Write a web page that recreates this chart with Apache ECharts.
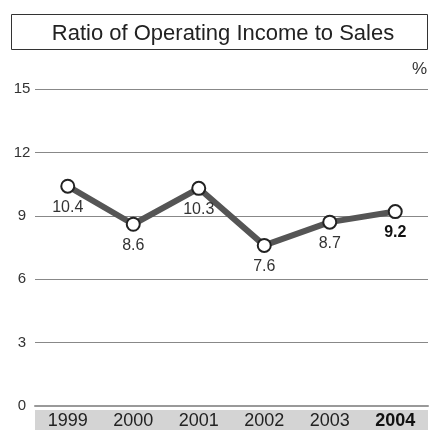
<!DOCTYPE html>
<html><head><meta charset="utf-8">
<script src="https://cdn.jsdelivr.net/npm/echarts@6/dist/echarts.min.js"></script>
<style>html,body{margin:0;padding:0;background:#fff}#c{width:430px;height:430px}</style>
</head><body><div id="c"></div>
<script>
var titleText = 'Ratio of Operating Income to Sales';
var categories = ['1999','2000','2001','2002','2003','2004'];
var ratioValues = [10.4, 8.6, 10.3, 7.6, 8.7, 9.2];
var yTicks = [0, 3, 6, 9, 12, 15];
var unitLabel = '%';

var chart = echarts.init(document.getElementById('c'), null, {renderer:'canvas'});
var font = 'Liberation Sans, Arial, sans-serif';
var narrow = '"Liberation Sans Narrow", "Arial Narrow", sans-serif';
chart.setOption({
  animation: false,
  backgroundColor: '#fff',
  title: {
    text: titleText, left: 218, top: 18, textAlign: 'center',
    textStyle: {fontFamily: font, fontSize: 22, fontWeight: 'normal', color: '#222'}
  },
  graphic: [
    {type:'rect', shape:{x:11.5, y:14.5, width:416, height:35}, style:{fill:'none', stroke:'#333', lineWidth:1}, z:-1},
    {type:'rect', shape:{x:35, y:410, width:393, height:20}, style:{fill:'#d4d4d4'}, z:-1},
    {type:'text', right: 3, top: 61, style:{text: unitLabel, fontFamily: font, fontSize: 17, fill:'#333'}}
  ],
  grid: {left: 35, right: 2, top: 89, bottom: 20, containLabel: false},
  xAxis: {
    type: 'category', data: categories, boundaryGap: true,
    axisLine: {show: true, lineStyle: {color: '#999', width: 2}},
    axisTick: {show: false},
    axisLabel: {
      interval: 0,
      fontFamily: narrow, fontSize: 18, color: '#222', margin: 6,
      formatter: function(v, i){ return i === categories.length - 1 ? '{b|' + v + '}' : v; },
      rich: {b: {fontFamily: narrow, fontSize: 18, fontWeight: 'bold', color: '#111'}}
    }
  },
  yAxis: {
    type: 'value', min: yTicks[0], max: yTicks[yTicks.length-1], interval: 3,
    axisLine: {show: false}, axisTick: {show: false},
    splitLine: {lineStyle: {color: '#888', width: 1}},
    axisLabel: {fontFamily: narrow, fontSize: 15, color: '#333', margin: 13, align: 'center'}
  },
  series: [{
    type: 'line', data: ratioValues,
    lineStyle: {color: '#555', width: 6},
    symbol: 'circle', symbolSize: 13,
    itemStyle: {color: '#fff', borderColor: '#222', borderWidth: 2},
    z: 3,
    label: {
      show: true, position: 'bottom', distance: 6,
      fontFamily: narrow, fontSize: 16, color: '#333',
      formatter: function(p){ return p.dataIndex === ratioValues.length - 1 ? '{b|' + p.value + '}' : String(p.value); },
      rich: {b: {fontFamily: narrow, fontSize: 16, fontWeight: 'bold', color: '#111'}}
    }
  }]
});
</script></body></html>
